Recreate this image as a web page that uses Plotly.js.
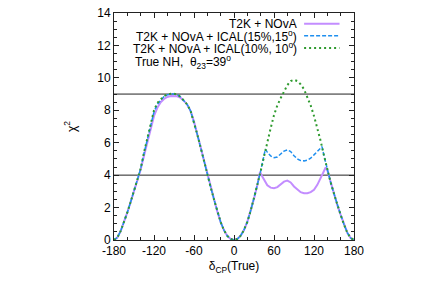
<!DOCTYPE html>
<html><head><meta charset="utf-8">
<script src="https://cdn.plot.ly/plotly-3.0.1.min.js"></script>
<style>html,body{margin:0;padding:0;background:#fff}#chart{width:436px;height:289px}</style>
</head><body><div id="chart"></div>
<script>
// ---- data ----
const leftX = [-180,-175,-170,-165,-160,-155,-150,-145,-140,-135,-130,-125,-120,-115,-110,-105,-100,-95,-90,-85,-80,-75,-70,-65,-60,-55,-50,-45,-40,-35,-30,-25,-20,-15,-10,-5,0];
const leftGreen = [0,0.15,0.55,1.1,1.7,2.35,3.0,3.7,4.4,5.4,6.3,7.3,8.0,8.45,8.7,8.88,8.97,9.02,9.02,8.97,8.82,8.6,8.35,7.95,7.3,6.5,5.7,4.85,4.0,3.25,2.5,1.75,1.1,0.6,0.25,0.06,0];
const leftBlue  = [0,0.15,0.55,1.1,1.7,2.35,3.0,3.7,4.4,5.35,6.22,7.2,7.9,8.38,8.65,8.85,8.95,9.0,9.0,8.96,8.82,8.6,8.35,7.95,7.3,6.5,5.7,4.85,4.0,3.25,2.5,1.75,1.1,0.6,0.25,0.06,0];
const leftPurple= [0,0.15,0.55,1.1,1.7,2.35,3.0,3.7,4.35,5.2,6.05,6.95,7.65,8.15,8.5,8.7,8.82,8.88,8.88,8.86,8.76,8.58,8.33,7.95,7.3,6.5,5.7,4.85,4.0,3.25,2.5,1.75,1.1,0.6,0.25,0.06,0];

const greenRX = [5,10,15,20,25,30,35,40,45,50,55,60,65,70,75,80,85,90,95,100,105,110,115,120,125,130,135,140,145,150,155,160,165,170,175,180];
const greenRY = [0.06,0.27,0.62,1.12,1.8,2.55,3.4,4.25,5.2,6.1,6.9,7.7,8.3,8.75,9.2,9.55,9.8,9.88,9.8,9.6,9.3,8.8,8.3,7.65,6.9,6.1,5.2,4.35,3.55,2.85,2.15,1.55,0.95,0.45,0.12,0];

const blueRX = [5,10,15,20,25,30,35,40,45,47,50,55,60,65,70,75,80,85,90,95,100,105,110,115,120,125,130,132,135,140,145,150,155,160,165,170,175,180];
const blueRY = [0.06,0.27,0.62,1.12,1.8,2.55,3.4,4.25,5.2,5.6,5.42,5.18,5.08,5.12,5.3,5.48,5.56,5.45,5.2,5.0,4.9,4.88,4.92,5.05,5.25,5.45,5.68,5.76,5.2,4.35,3.55,2.85,2.15,1.55,0.95,0.45,0.12,0];

const purpleRX = [5,10,15,20,25,30,35,39,42,45,50,55,60,65,70,75,80,85,90,95,100,105,110,115,120,125,130,135,137.5,140,145,150,155,160,165,170,175,180];
const purpleRY = [0.06,0.27,0.62,1.12,1.8,2.55,3.4,4.2,3.95,3.7,3.38,3.23,3.19,3.26,3.42,3.6,3.66,3.55,3.3,3.1,2.95,2.88,2.88,2.95,3.1,3.4,3.8,4.25,4.47,4.3,3.55,2.85,2.15,1.55,0.95,0.45,0.12,0];

const refLevels = [4, 9];
const xTicks = [-180,-120,-60,0,60,120,180];
const yTicks = [0,2,4,6,8,10,12,14];
const legendNames = ["T2K + NOvA", "T2K + NOvA + ICAL(15%,15<sup>o</sup>)", "T2K + NOvA + ICAL(10%, 10<sup>o</sup>)"];
const noteText = "True NH,  θ<sub>23</sub>=39<sup>o</sup>";

// ---- styling ----
const colPurple = "#c38dff", colBlue = "#1f8fef", colGreen = "#2e9a2e";
const font = {family: "Liberation Sans, Arial, sans-serif", size: 12, color: "#000"};
const tickFont = {family: "Liberation Sans, Arial, sans-serif", size: 12, color: "#000"};

const traces = [
  {x: leftX.concat(purpleRX), y: leftPurple.concat(purpleRY), mode: "lines", line: {color: colPurple, width: 2}, hoverinfo: "skip"},
  {x: leftX.concat(blueRX), y: leftBlue.concat(blueRY), mode: "lines", line: {color: colBlue, width: 1.5, dash: "4px,2px"}, hoverinfo: "skip"},
  {x: leftX.concat(greenRX), y: leftGreen.concat(greenRY), mode: "lines", line: {color: colGreen, width: 2, dash: "2px,3px"}, hoverinfo: "skip"}
];

const shapes = refLevels.map(v => ({type: "line", xref: "paper", x0: 0, x1: 1, yref: "y", y0: v, y1: v, line: {color: "#222", width: 1}, layer: "below"}));
const sampleStyles = [
  {color: colPurple, width: 2},
  {color: colBlue, width: 1.5, dash: "4px,2px"},
  {color: colGreen, width: 2, dash: "2px,3px"}
];
const rowsY = [23.3, 35.3, 47.5];
const H = 289, T = 12.5, B = 49;
const toPaperY = py => 1 - (py - T) / (H - T - B);
const L = 113.5, R = 82, W = 436;
const toPaperX = px => (px - L) / (W - L - R);
sampleStyles.forEach((st, i) => {
  shapes.push({type: "line", xref: "paper", yref: "paper", x0: toPaperX(304), x1: toPaperX(339.5), y0: toPaperY(rowsY[i]), y1: toPaperY(rowsY[i]), line: st});
});
const annotations = legendNames.map((t, i) => ({
  text: t, xref: "paper", yref: "paper", x: toPaperX(297.5), y: toPaperY(rowsY[i]), xanchor: "right", yanchor: "middle", showarrow: false, font: font, borderpad: 0
}));
annotations.push({text: noteText, xref: "paper", yref: "paper", x: toPaperX(134), y: toPaperY(62), xanchor: "left", yanchor: "middle", showarrow: false, font: font, borderpad: 0});

const axisCommon = {
  showgrid: false, zeroline: false, showline: true, linecolor: "#222", linewidth: 1, mirror: "allticks",
  ticks: "inside", ticklen: 5, tickcolor: "#222", tickfont: tickFont
};

const layout = {
  width: 436, height: 289,
  margin: {l: L, r: R, t: T, b: B},
  paper_bgcolor: "#fff", plot_bgcolor: "#fff",
  showlegend: false,
  xaxis: Object.assign({}, axisCommon, {
    range: [-180, 180], tickmode: "array", tickvals: xTicks, ticktext: xTicks.map(String),
    minor: {dtick: 20, tick0: -180, ticks: "inside", ticklen: 3, tickcolor: "#222"},
    title: {text: "δ<sub>CP</sub>(True)", font: font, standoff: 4}
  }),
  yaxis: Object.assign({}, axisCommon, {
    range: [0, 14], tickmode: "array", tickvals: yTicks, ticktext: yTicks.map(String),
    minor: {dtick: 0.5, tick0: 0, ticks: "inside", ticklen: 3, tickcolor: "#222"},
    title: {text: "χ<sup>2</sup>", font: font, standoff: 18}
  }),
  shapes: shapes,
  annotations: annotations
};

Plotly.newPlot("chart", traces, layout, {staticPlot: true, displayModeBar: false});
</script></body></html>
